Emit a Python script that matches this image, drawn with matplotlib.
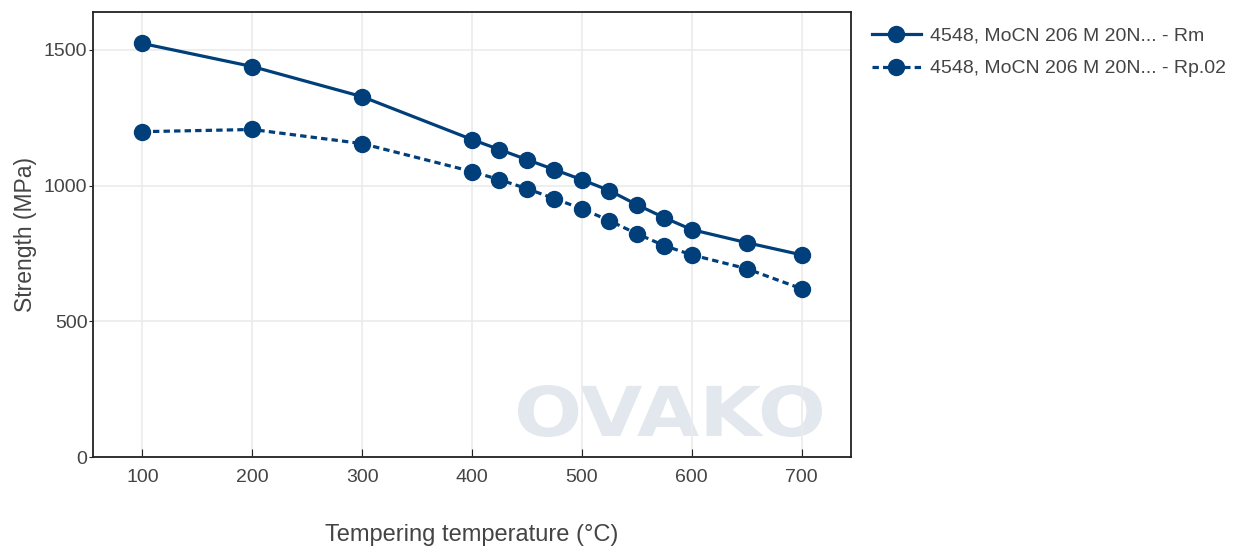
import matplotlib
matplotlib.use("Agg")
import matplotlib.pyplot as plt
from matplotlib.textpath import TextPath
from matplotlib.patches import PathPatch
from matplotlib.font_manager import FontProperties
from matplotlib.transforms import Affine2D

temps = [100, 200, 300, 400, 425, 450, 475, 500, 525, 550, 575, 600, 650, 700]
rm = [1524, 1439, 1328, 1170, 1133, 1096, 1059, 1022, 982, 930, 882, 838, 790, 745]
rp02 = [1199, 1207, 1155, 1052, 1022, 989, 952, 915, 871, 823, 779, 745, 694, 620]
labels = ["4548, MoCN 206 M 20N... - Rm", "4548, MoCN 206 M 20N... - Rp.02"]
xticks = [100, 200, 300, 400, 500, 600, 700]
yticks = [0, 500, 1000, 1500]

color = "#003f7a"
txt = "#444444"
plt.rcParams['font.family'] = ['Liberation Sans', 'DejaVu Sans']

W, H = 1247, 556
fig = plt.figure(figsize=(W / 100, H / 100), dpi=100)
ax = fig.add_axes([93 / W, 1 - 457 / H, (851 - 93) / W, (457 - 12) / H])

# watermark
tp = TextPath((0, 0), "OVAKO", size=1, prop=FontProperties(family='DejaVu Sans', weight='bold'))
ext = tp.get_extents()
x0, x1 = (518 - 93) / 758, (822 - 93) / 758
y0, y1 = (457 - 437) / 445, (457 - 385) / 445
tr = Affine2D().translate(-ext.x0, -ext.y0).scale((x1 - x0) / ext.width, (y1 - y0) / ext.height).translate(x0, y0)
ax.add_patch(PathPatch(tr.transform_path(tp), transform=ax.transAxes, color="#e2e8ee", lw=0, zorder=0.5))

ax.plot(temps, rm, '-', color=color, lw=2.3, marker='o', ms=11.5, label=labels[0], zorder=3)
ax.plot(temps, rp02, color=color, lw=2.3, marker='o', ms=11.5, label=labels[1], zorder=3,
        dashes=(2.0, 1.3))

ax.set_xlim(55, 745)
ax.set_ylim(0, 1640)
ax.set_xticks(xticks)
ax.set_yticks(yticks)
ax.grid(True, color="#ebebeb", lw=1.2, zorder=0)
ax.set_axisbelow(True)
for s in ax.spines.values():
    s.set_color("#222222")
    s.set_linewidth(1.3)
ax.tick_params(axis='x', direction='in', length=6, color="#222222", labelsize=14, labelcolor=txt, pad=9)
ax.tick_params(axis='y', direction='out', length=3, color="#222222", labelsize=14, labelcolor=txt, pad=1)
ax.set_xlabel("Tempering temperature (°C)", fontsize=17, color=txt, labelpad=27)
ax.set_ylabel("Strength (MPa)", fontsize=16.5, color=txt)
ax.yaxis.set_label_coords((37 - 93) / 758, 0.5)

leg = fig.legend(*ax.get_legend_handles_labels(), loc='upper left',
                 bbox_to_anchor=(872 / W, 1 - 27 / H), bbox_transform=fig.transFigure,
                 frameon=False, borderpad=0, borderaxespad=0,
                 fontsize=14, labelcolor=txt, handlelength=2.5, handletextpad=0.5,
                 labelspacing=0.78)

fig.savefig("out.png", dpi=100)
